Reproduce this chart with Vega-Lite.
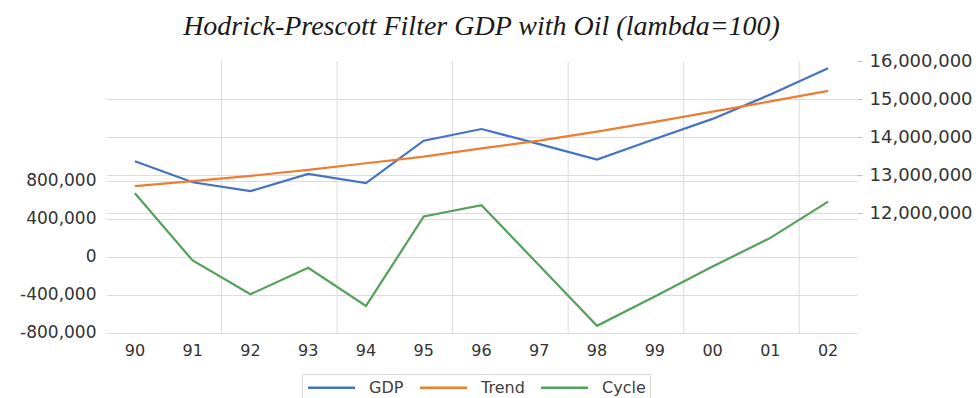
{
  "$schema": "https://vega.github.io/schema/vega-lite/v6.json",
  "width": 751,
  "height": 272,
  "autosize": {"type": "none"},
  "padding": {"left": 106, "top": 61, "right": 122, "bottom": 65},
  "background": "white",
  "title": {
    "text": "Hodrick-Prescott Filter GDP with Oil (lambda=100)",
    "font": "Liberation Serif",
    "fontStyle": "italic",
    "fontWeight": "normal",
    "fontSize": 28,
    "color": "#1a1a1a",
    "anchor": "middle",
    "offset": 11
  },
  "config": {"view": {"stroke": null}, "font": "DejaVu Sans"},
  "data": {
    "values": [
      {"year": "90", "series": "GDP", "value": 13367000},
      {"year": "91", "series": "GDP", "value": 12818000},
      {"year": "92", "series": "GDP", "value": 12583000},
      {"year": "93", "series": "GDP", "value": 13037000},
      {"year": "94", "series": "GDP", "value": 12792000},
      {"year": "95", "series": "GDP", "value": 13908000},
      {"year": "96", "series": "GDP", "value": 14214000},
      {"year": "97", "series": "GDP", "value": 13817000},
      {"year": "98", "series": "GDP", "value": 13412000},
      {"year": "99", "series": "GDP", "value": 13953000},
      {"year": "00", "series": "GDP", "value": 14480000},
      {"year": "01", "series": "GDP", "value": 15120000},
      {"year": "02", "series": "GDP", "value": 15809000},
      {"year": "90", "series": "Trend", "value": 12714000},
      {"year": "91", "series": "Trend", "value": 12845000},
      {"year": "92", "series": "Trend", "value": 12985000},
      {"year": "93", "series": "Trend", "value": 13142000},
      {"year": "94", "series": "Trend", "value": 13316000},
      {"year": "95", "series": "Trend", "value": 13490000},
      {"year": "96", "series": "Trend", "value": 13707000},
      {"year": "97", "series": "Trend", "value": 13908000},
      {"year": "98", "series": "Trend", "value": 14144000},
      {"year": "99", "series": "Trend", "value": 14400000},
      {"year": "00", "series": "Trend", "value": 14670000},
      {"year": "01", "series": "Trend", "value": 14940000},
      {"year": "02", "series": "Trend", "value": 15216000},
      {"year": "90", "series": "Cycle", "value": 666000},
      {"year": "91", "series": "Cycle", "value": -42000},
      {"year": "92", "series": "Cycle", "value": -397000},
      {"year": "93", "series": "Cycle", "value": -118000},
      {"year": "94", "series": "Cycle", "value": -520000},
      {"year": "95", "series": "Cycle", "value": 421000},
      {"year": "96", "series": "Cycle", "value": 540000},
      {"year": "97", "series": "Cycle", "value": -94000},
      {"year": "98", "series": "Cycle", "value": -729000},
      {"year": "99", "series": "Cycle", "value": -420000},
      {"year": "00", "series": "Cycle", "value": -105000},
      {"year": "01", "series": "Cycle", "value": 196000},
      {"year": "02", "series": "Cycle", "value": 578000}
    ]
  },
  "layer": [
    {
      "data": {"values": [{"year": "92"}, {"year": "94"}, {"year": "96"}, {"year": "98"}, {"year": "00"}, {"year": "02"}]},
      "mark": {"type": "rule", "color": "#dcdcdc", "strokeWidth": 1},
      "encoding": {
        "x": {
          "field": "year", "type": "ordinal", "bandPosition": 0,
          "scale": {"type": "band", "domain": ["90","91","92","93","94","95","96","97","98","99","00","01","02"], "paddingInner": 0, "paddingOuter": 0},
          "axis": {"title": null, "domain": false, "ticks": false, "labelPadding": 9, "labelFontSize": 16, "labelFont": "DejaVu Sans", "labelColor": "#333333", "labelAngle": 0, "grid": false}
        }
      }
    },
    {
      "transform": [{"filter": "datum.series == 'Cycle'"}],
      "mark": {"type": "line", "strokeWidth": 2.2},
      "encoding": {
        "x": {
          "field": "year", "type": "ordinal",
          "scale": {"type": "band", "domain": ["90","91","92","93","94","95","96","97","98","99","00","01","02"], "paddingInner": 0, "paddingOuter": 0},
          "axis": {"title": null, "domain": false, "ticks": false, "labelPadding": 9, "labelFontSize": 16, "labelFont": "DejaVu Sans", "labelColor": "#333333", "labelAngle": 0, "grid": false}
        },
        "y": {
          "field": "value", "type": "quantitative",
          "scale": {"domain": [-805000, 2058000], "nice": false, "zero": false},
          "axis": {"orient": "left", "values": [-800000, -400000, 0, 400000, 800000], "format": ",.0f", "labelExpr": "replace(datum.label, '−', '-')", "title": null, "domain": false, "ticks": false, "labelPadding": 10, "labelFontSize": 17, "labelFont": "DejaVu Sans", "labelColor": "#333333", "grid": true, "gridColor": "#dcdcdc"}
        },
        "color": {
          "field": "series", "type": "nominal",
          "scale": {"domain": ["GDP", "Trend", "Cycle"], "range": ["#4472C4", "#ED7D31", "#55a05b"]},
          "legend": {"orient": "none", "legendX": 196, "legendY": 313, "direction": "horizontal", "title": null, "symbolType": "M-2.94,0L2.94,0", "symbolSize": 256, "symbolStrokeWidth": 2.5, "symbolOffset": 16, "labelFontSize": 16, "labelFont": "DejaVu Sans", "labelColor": "#404040", "labelOffset": 28, "columnPadding": 10, "strokeColor": "#d9d9d9", "padding": 4}
        }
      }
    },
    {
      "transform": [{"filter": "datum.series != 'Cycle'"}],
      "mark": {"type": "line", "strokeWidth": 2.2},
      "encoding": {
        "x": {
          "field": "year", "type": "ordinal",
          "scale": {"type": "band", "domain": ["90","91","92","93","94","95","96","97","98","99","00","01","02"], "paddingInner": 0, "paddingOuter": 0},
          "axis": {"title": null, "domain": false, "ticks": false, "labelPadding": 9, "labelFontSize": 16, "labelFont": "DejaVu Sans", "labelColor": "#333333", "labelAngle": 0, "grid": false}
        },
        "y": {
          "field": "value", "type": "quantitative",
          "scale": {"domain": [8860000, 16000000], "nice": false, "zero": false},
          "axis": {"orient": "right", "values": [12000000, 13000000, 14000000, 15000000, 16000000], "format": ",.0f", "title": null, "domain": false, "ticks": true, "tickSize": 5, "tickColor": "#bfbfbf", "labelPadding": 7, "labelFontSize": 18, "labelFont": "DejaVu Sans", "labelColor": "#333333", "grid": true, "gridColor": {"condition": {"test": "datum.value == 16000000", "value": "transparent"}, "value": "#dcdcdc"}}
        },
        "color": {
          "field": "series", "type": "nominal",
          "scale": {"domain": ["GDP", "Trend", "Cycle"], "range": ["#4472C4", "#ED7D31", "#55a05b"]},
          "legend": {"orient": "none", "legendX": 196, "legendY": 313, "direction": "horizontal", "title": null, "symbolType": "M-2.94,0L2.94,0", "symbolSize": 256, "symbolStrokeWidth": 2.5, "symbolOffset": 16, "labelFontSize": 16, "labelFont": "DejaVu Sans", "labelColor": "#404040", "labelOffset": 28, "columnPadding": 10, "strokeColor": "#d9d9d9", "padding": 4}
        }
      }
    }
  ],
  "resolve": {"scale": {"y": "independent"}, "axis": {"y": "independent"}}
}
